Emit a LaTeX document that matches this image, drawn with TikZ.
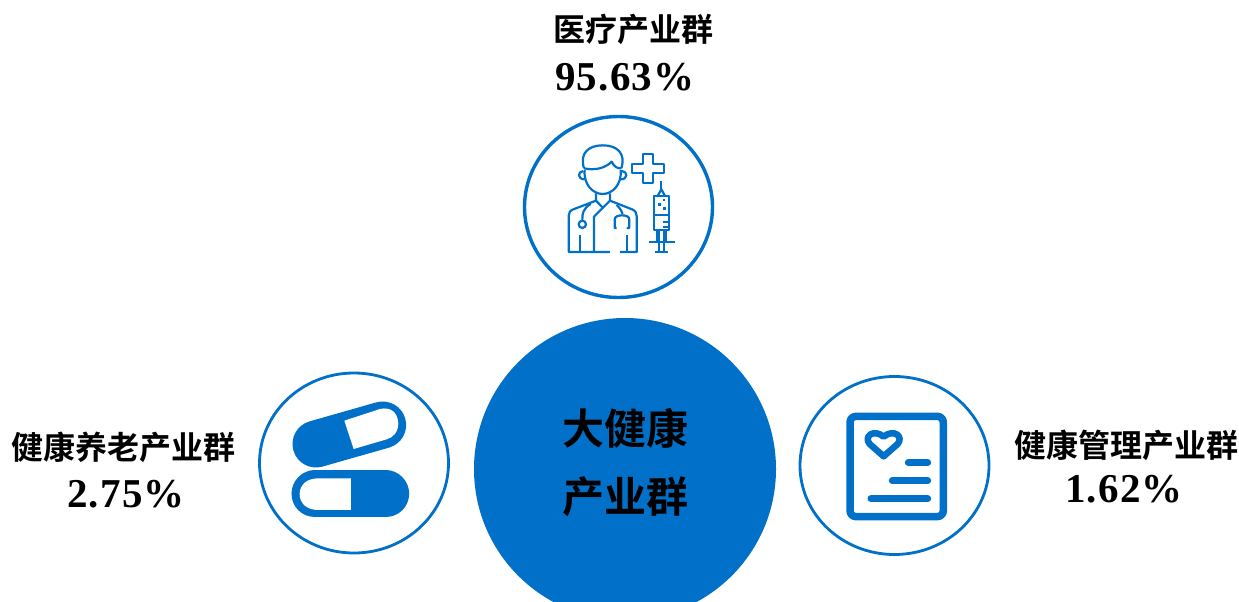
\documentclass[tikz,border=0pt]{standalone}
\usepackage{fontspec}
\usetikzlibrary{shapes.geometric}
\newfontfamily\cjkb[BoldFont={Noto Sans CJK SC Bold}]{Noto Sans CJK SC}
\newfontfamily\numf[LetterSpace=3]{Liberation Serif}
\definecolor{bluemain}{HTML}{0070C8}
\tikzset{
  ring/.style={draw=bluemain,line width=2.8pt,ellipse,inner sep=0pt,fill=white},
  title/.style={inner sep=0pt,font=\cjkb\bfseries\fontsize{32}{34}\selectfont,text=black},
  big/.style={inner sep=0pt,font=\cjkb\bfseries\fontsize{42}{44}\selectfont,text=black},
  pct/.style={inner sep=0pt,font=\numf\bfseries\fontsize{41}{43}\selectfont,text=black},
  ln/.style={draw=bluemain,line width=2.2pt,line join=round,fill=none},
  fat/.style={draw=bluemain,line cap=round,line join=round,fill=none},
}
\begin{document}
\begin{tikzpicture}[x=1pt,y=-1pt]
\useasboundingbox (0,0) rectangle (1239,602);
\begin{scope}
\clip (0,0) rectangle (1239,602);
\node[circle,fill=bluemain,minimum size=302pt,inner sep=0pt] (hub) at (625,469) {};
\end{scope}
\node[big] (h1) at (625.5,428) {大健康};
\node[big] (h2) at (625.5,497) {产业群};
\node[ring,line width=3.4pt,minimum width=188pt,minimum height=181pt] (top) at (618.5,207) {};
\node[ring,minimum width=189pt,minimum height=180pt] (left) at (354,463) {};
\node[ring,minimum width=189pt,minimum height=178pt] (right) at (894.5,465.5) {};
\node[title] (t1) at (633,29) {医疗产业群};
\node[pct] (p1) at (625,77) {95.63\%};
\node[title] (t2) at (124,447) {健康养老产业群};
\node[pct] (p2) at (126,494) {2.75\%};
\node[title] (t3) at (1126,445) {健康管理产业群};
\node[pct] (p3) at (1124,489) {1.62\%};
% doctor icon
\begin{scope}[shift={(520,110)},x=0.3333pt,y=-0.3333pt]
\draw[ln] (192,175) .. controls (178,130) and (205,106) .. (248,106) .. controls (292,106) and (318,130) .. (304,175);
\draw[ln] (192,175) .. controls (225,182) and (255,175) .. (275,155) .. controls (282,170) and (292,176) .. (304,175);
\draw[ln] (194,180) .. controls (190,225) and (220,252) .. (248,252) .. controls (276,252) and (306,225) .. (302,180);
\draw[ln] (190,183) .. controls (172,185) and (172,208) .. (194,208);
\draw[ln] (306,183) .. controls (324,185) and (324,208) .. (302,208);
\draw[ln] (228,250) -- (228,272) -- (160,298) .. controls (150,302) and (146,308) .. (146,318) -- (146,426) -- (270,426);
\draw[ln] (270,250) -- (270,272) -- (222,320) -- (222,426);
\draw[ln] (228,272) -- (250,295);
\draw[ln] (270,272) -- (336,298) .. controls (346,302) and (350,308) .. (350,318) -- (350,426) -- (300,426);
\draw[ln] (212,282) .. controls (190,295) and (186,310) .. (187,332);
\draw[ln] (187,343) circle[radius=11];
\draw[ln] (290,285) .. controls (300,295) and (306,303) .. (308,312);
\draw[ln] (290,354) -- (284,354) -- (284,328) .. controls (284,312) and (328,312) .. (328,328) -- (328,354) -- (320,354);
\draw[ln] (180,375) -- (180,426);
\draw[ln] (322,375) -- (322,426);
\draw[ln] (368,132) -- (400,132) -- (400,162) -- (432,162) -- (432,190) -- (400,190) -- (400,220) -- (368,220) -- (368,190) -- (336,190) -- (336,162) -- (368,162) -- cycle;
\draw[ln] (424,212) -- (424,240);
\draw[ln] (414,256) -- (424,238) -- (434,256);
\draw[ln] (402,258) rectangle (447,360);
\draw[ln] (402,316) -- (447,316);
\draw[ln] (428,336) -- (447,336);
\draw[ln] (428,352) -- (447,352);
\draw[ln] (410,360) -- (410,396);
\draw[ln] (438,360) -- (438,396);
\draw[ln] (418,360) -- (418,426);
\draw[ln] (432,360) -- (432,426);
\draw[ln] (386,396) -- (466,396);
\draw[ln] (405,426) -- (445,426);
\fill[bluemain] (428,266) rectangle +(8,8);
\fill[bluemain] (414,280) rectangle +(8,8);
\fill[bluemain] (430,292) rectangle +(8,8);
\end{scope}
% capsules
\begin{scope}[shift={(255,370)},x=0.3333pt,y=-0.3333pt]
\draw[fat,line width=47pt] (183,222) -- (383,165);
\fill[white] (268,152) -- (375,117) .. controls (405,110) and (428,125) .. (430,160) .. controls (430,185) and (415,203) .. (395,208) -- (296,237) -- cycle;
\draw[fat,line width=47pt] (180,372) -- (392,372);
\fill[white] (288,325) -- (190,325) .. controls (155,325) and (134,345) .. (134,372) .. controls (134,400) and (155,420) .. (190,420) -- (288,420) -- cycle;
\end{scope}
% report
\begin{scope}[shift={(795,370)},x=0.3333pt,y=-0.3333pt]
\draw[fat,line width=7.5pt,rounded corners=6pt] (165,139) rectangle (445,440);
\draw[fat,line width=6.5pt] (266,259) -- (224,222) .. controls (205,200) and (235,175) .. (266,200) .. controls (297,175) and (327,200) .. (308,222) -- cycle;
\draw[fat,line width=7pt] (340,278) -- (398,278);
\draw[fat,line width=7pt] (292,332) -- (398,332);
\draw[fat,line width=7pt] (228,386) -- (398,386);
\end{scope}
\end{tikzpicture}
\end{document}
